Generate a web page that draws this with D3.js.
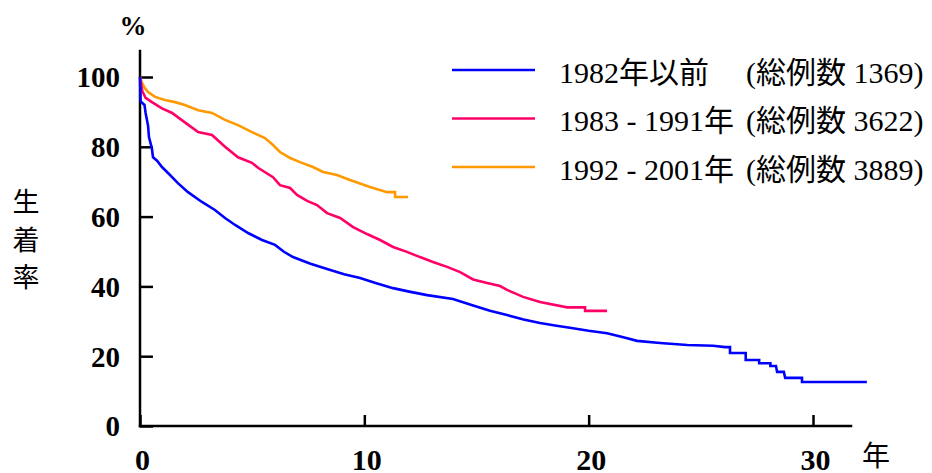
<!DOCTYPE html>
<html>
<head>
<meta charset="utf-8">
<script src="https://cdn.jsdelivr.net/npm/d3@7"></script>
<style>
  html, body { margin: 0; padding: 0; background: #ffffff; }
  svg { display: block; }
</style>
</head>
<body>
<svg id="chart"></svg>
<script>
// Survival curves (years after placement, % survival).
// Repeated years mark the visible vertical drops of the step curve.
const before1982Years = [0, 0.03, 0.2, 0.25, 0.36, 0.4, 0.53, 0.58, 0.76, 0.98, 1.25, 1.69, 2.14, 2.76, 3.34, 3.79, 4.24, 4.82, 5.44, 6.02, 6.4, 6.82, 7.6, 8.34, 9.1, 9.81, 10.5, 11.28, 12.0, 12.8, 13.95, 14.85, 15.6, 16.36, 17.1, 17.83, 18.5, 19.3, 20.0, 20.82, 21.5, 22.16, 23.18, 24.39, 25.55, 26.08, 26.3, 26.3, 27.0, 27.0, 27.6, 27.6, 28.1, 28.1, 28.35, 28.4, 28.7, 28.76, 29.51, 29.51, 32.4];
const before1982Rates = [100, 93, 92, 89.7, 86, 82.8, 79.5, 77, 76, 74.2, 72.5, 69.6, 67, 64.2, 61.9, 59.6, 57.6, 55.3, 53.3, 51.9, 50, 48.4, 46.5, 45, 43.5, 42.4, 41, 39.5, 38.5, 37.5, 36.4, 34.5, 33, 31.8, 30.5, 29.5, 28.8, 28, 27.3, 26.6, 25.5, 24.4, 23.8, 23.2, 23.0, 22.6, 22.6, 20.9, 20.9, 18.9, 18.9, 18, 18, 17.2, 17.2, 15.5, 15.5, 13.8, 13.8, 12.6, 12.6];

const from1983Years = [0, 0.1, 0.25, 0.53, 0.98, 1.43, 2.0, 2.59, 3.21, 3.79, 4.37, 4.99, 5.26, 5.93, 6.24, 6.69, 7.0, 7.45, 7.89, 8.34, 8.92, 9.5, 10.12, 10.7, 11.28, 11.9, 12.48, 13.06, 13.69, 14.27, 14.85, 15.47, 16.05, 16.36, 17.08, 17.83, 19.04, 19.84, 19.84, 20.82];
const from1983Rates = [100, 96, 94, 92.8, 91, 89.7, 87, 84.2, 83.4, 80, 77, 75.4, 74, 71.3, 69, 68.2, 66.2, 64.5, 63.3, 61, 59.6, 57, 55, 53.3, 51.3, 49.9, 48.4, 47, 45.6, 44.1, 42, 41, 40.1, 39, 37, 35.5, 34, 34, 33, 33];

const from1992Years = [0, 0.09, 0.2, 0.36, 0.67, 1.11, 1.56, 2.0, 2.59, 3.21, 3.79, 4.37, 4.99, 5.57, 5.93, 6.24, 6.69, 7.13, 7.71, 8.16, 8.78, 9.36, 10.25, 11.01, 11.37, 11.37, 11.95];
const from1992Rates = [100, 98.3, 97, 95.7, 94.3, 93.4, 92.8, 92, 90.5, 89.7, 87.7, 86.2, 84.2, 82.5, 80.5, 78.5, 76.8, 75.6, 74.2, 72.8, 71.9, 70.5, 68.5, 67, 67, 65.6, 65.6];

const seriesColors = ["#0000ff", "#ff0066", "#ff9900"];
const legendLabels = ["1982年以前", "1983 - 1991年", "1992 - 2001年"];
const legendTotals = ["(総例数 1369)", "(総例数 3622)", "(総例数 3889)"];

const xTicks = [0, 10, 20, 30];
const yTicks = [0, 20, 40, 60, 80, 100];
const yAxisTitle = ["生", "着", "率"];

// layout / style
const svgDimensions = { width: 932, height: 473 };
const xRange = [140, 813];
const yRange = [426, 77];
const xAxisEnd = 31.75;
const yAxisEnd = 107.8;
const serifFont = "'Liberation Serif', 'Times New Roman', serif";
const cjkFont = "'Noto Sans CJK JP', 'Noto Sans CJK SC', sans-serif";
const cjkChar = /[\u3000-\u9fff\uff00-\uffef]/;

const svg = d3
  .select("#chart")
  .attr("width", svgDimensions.width)
  .attr("height", svgDimensions.height)
  .attr("style", "background-color: #ffffff");

const xScale = d3.scaleLinear().domain([0, 30]).range(xRange);
const yScale = d3.scaleLinear().domain([0, 100]).range(yRange);

// splits "1982年以前" into serif / CJK runs so each gets its own font
const splitRuns = (str) => {
  const runs = [];
  for (const ch of str) {
    const isCjk = cjkChar.test(ch);
    const last = runs[runs.length - 1];
    if (last && last.cjk === isCjk) last.text += ch;
    else runs.push({ text: ch, cjk: isCjk });
  }
  return runs;
};

// axes
const yAxis = svg
  .append("g")
  .attr("transform", `translate(${xRange[0]},0)`)
  .call(
    d3.axisLeft(yScale)
      .tickValues(yTicks)
      .tickSizeInner(-13)
      .tickSizeOuter(0)
      .tickPadding(20)
  );
yAxis.select(".domain").remove();
yAxis.selectAll("line").attr("stroke", "#000").attr("stroke-width", 2.5);
yAxis
  .selectAll("text")
  .attr("font-family", serifFont)
  .attr("font-weight", "bold")
  .attr("font-size", 29)
  .attr("fill", "#000")
  .attr("dy", "0.34em");

const xAxis = svg
  .append("g")
  .attr("transform", `translate(0,${yRange[0]})`)
  .call(
    d3.axisBottom(xScale)
      .tickValues(xTicks)
      .tickSizeInner(-11)
      .tickSizeOuter(0)
      .tickPadding(23)
  );
xAxis.select(".domain").remove();
xAxis.selectAll("line").attr("stroke", "#000").attr("stroke-width", 2.5);
xAxis
  .selectAll("text")
  .attr("font-family", serifFont)
  .attr("font-weight", "bold")
  .attr("font-size", 30)
  .attr("fill", "#000")
  .attr("dx", 2);

svg
  .append("line")
  .attr("x1", xScale(0))
  .attr("x2", xScale(0))
  .attr("y1", yScale(0) + 1.25)
  .attr("y2", yScale(yAxisEnd))
  .attr("stroke", "#000")
  .attr("stroke-width", 2.5);

svg
  .append("line")
  .attr("x1", xScale(0) - 1.25)
  .attr("x2", xScale(xAxisEnd))
  .attr("y1", yScale(0))
  .attr("y2", yScale(0))
  .attr("stroke", "#000")
  .attr("stroke-width", 2.5);

// axis titles
svg
  .append("text")
  .attr("x", 133)
  .attr("y", 35)
  .attr("text-anchor", "middle")
  .attr("font-family", serifFont)
  .attr("font-weight", "bold")
  .attr("font-size", 27)
  .text("%");

svg
  .append("text")
  .attr("x", 876)
  .attr("y", 466)
  .attr("text-anchor", "middle")
  .attr("font-family", cjkFont)
  .attr("font-size", 28)
  .text("年");

svg
  .selectAll(".ytitle")
  .data(yAxisTitle)
  .enter()
  .append("text")
  .attr("class", "ytitle")
  .attr("x", 26)
  .attr("y", (d, i) => 212 + i * 37.5)
  .attr("text-anchor", "middle")
  .attr("font-family", cjkFont)
  .attr("font-size", 27)
  .text(d => d);

// survival curves
const series = [
  { years: before1982Years, rates: before1982Rates },
  { years: from1983Years, rates: from1983Rates },
  { years: from1992Years, rates: from1992Rates }
];

const line = d3
  .line()
  .x(d => xScale(d[0]))
  .y(d => yScale(d[1]));

// orange first so blue sits on top like the original
[2, 1, 0].forEach(i => {
  const pts = series[i].years.map((y, k) => [y, series[i].rates[k]]);
  svg
    .append("path")
    .datum(pts)
    .attr("fill", "none")
    .attr("stroke", seriesColors[i])
    .attr("stroke-width", 2.6)
    .attr("stroke-linejoin", "miter")
    .attr("d", line);
});

// legend
const legendRowsY = [70, 118.5, 167];
const legend = svg.append("g");

legend
  .selectAll("line")
  .data(legendLabels)
  .enter()
  .append("line")
  .attr("x1", 452)
  .attr("x2", 535)
  .attr("y1", (d, i) => legendRowsY[i])
  .attr("y2", (d, i) => legendRowsY[i])
  .attr("stroke", (d, i) => seriesColors[i])
  .attr("stroke-width", 2.4);

const legendText = (texts, x, cls) => {
  legend
    .selectAll("." + cls)
    .data(texts)
    .enter()
    .append("text")
    .attr("class", cls)
    .attr("x", x)
    .attr("y", (d, i) => legendRowsY[i] + 12.5)
    .attr("font-size", 30)
    .attr("fill", "#000")
    .each(function (d) {
      const t = d3.select(this);
      splitRuns(d).forEach(r => {
        t.append("tspan")
          .attr("font-family", r.cjk ? cjkFont : serifFont)
          .text(r.text);
      });
    });
};

legendText(legendLabels, 559, "label");
legendText(legendTotals, 746, "total");
</script>
</body>
</html>
